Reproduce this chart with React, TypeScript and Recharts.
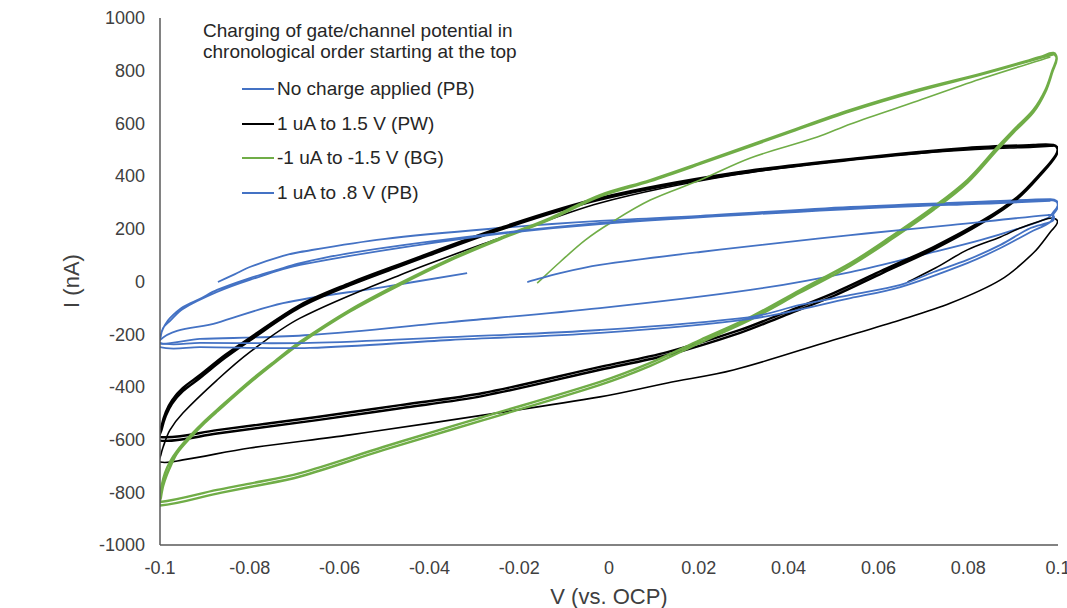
import React from 'react';
import { ComposedChart, Line, XAxis, YAxis } from 'recharts';

type Pt = [number, number];

const X_TICKS = [-0.1, -0.08, -0.06, -0.04, -0.02, 0, 0.02, 0.04, 0.06, 0.08, 0.1];
const Y_TICKS = [-1000, -800, -600, -400, -200, 0, 200, 400, 600, 800, 1000];
const X_TITLE = 'V (vs. OCP)';
const Y_TITLE = 'I (nA)';
const LEGEND_TITLE = ['Charging of gate/channel potential in', 'chronological order starting at the top'];
const SERIES_NAMES = ['No charge applied (PB)', '1 uA to 1.5 V (PW)', '-1 uA to -1.5 V (BG)', '1 uA to .8 V (PB)'];

// ---- "No charge applied (PB)" ----
const pbStartScan: Pt[] = [
  [-0.0871, -2], [-0.0833, 28], [-0.08, 55], [-0.0726, 97], [-0.0688, 112], [-0.0503, 161],
  [-0.0243, 203], [-0.002, 230], [0.0203, 249], [0.0538, 283], [0.0872, 306], [0.0983, 313],
  [0.0997, 306], [0.0999, 287], [0.099, 264],
];
const pbReturnA: Pt[] = [
  [0.0977, 241], [0.0916, 203], [0.0827, 157], [0.0723, 112], [0.0538, 36], [0.0315, -32],
  [-0.002, -101], [-0.0354, -154], [-0.0666, -203], [-0.0911, -218], [-0.1, -222],
];
const pbEndScan: Pt[] = [
  [-0.0873, -157], [-0.0726, -82], [-0.0503, -21], [-0.0316, 32],
];

// ---- "1 uA to .8 V (PB)" ----
const pb8Start: Pt[] = [
  [-0.0182, -2], [-0.0109, 32], [-0.002, 63], [0.0203, 112], [0.0538, 176], [0.0761, 214],
  [0.0977, 252], [0.099, 249], [0.0988, 230],
];
const pb8ReturnA: Pt[] = [
  [0.0939, 203], [0.0872, 139], [0.0798, 82], [0.0723, 36], [0.0649, -13], [0.0538, -51],
  [0.0426, -89], [0.0315, -135], [-0.002, -184], [-0.0354, -211], [-0.0666, -233],
  [-0.0911, -233], [-0.1, -233],
];
const pb8ForwardA: Pt[] = [
  [-0.0996, -191], [-0.0989, -165], [-0.0978, -139], [-0.0949, -97], [-0.0911, -66],
  [-0.0873, -32], [-0.08, 13], [-0.0726, 51], [-0.0688, 70], [-0.0577, 108], [-0.0316, 169],
  [-0.002, 222], [0.0203, 245], [0.0538, 279], [0.0872, 302], [0.0983, 309], [0.0997, 302],
  [0.0999, 279], [0.099, 256],
];
const pb8ReturnB: Pt[] = [
  [0.0983, 226], [0.0939, 188], [0.0872, 127], [0.0798, 70], [0.0649, -21], [0.0538, -63],
  [0.0315, -142], [-0.002, -195], [-0.0354, -222], [-0.0666, -252], [-0.0911, -249], [-0.1, -249],
];
const pb8ForwardB: Pt[] = [
  [-0.0998, -207], [-0.0993, -176], [-0.0978, -150], [-0.0949, -104], [-0.0873, -40],
  [-0.08, 6], [-0.0688, 63], [-0.0316, 165], [-0.002, 218], [0.0538, 275], [0.0872, 298],
  [0.0983, 306],
];

// ---- "1 uA to 1.5 V (PW)" ----
const pwFirstCycle: Pt[] = [
  [0.0665, -2], [0.0727, 51], [0.0798, 120], [0.0872, 169], [0.0916, 203], [0.0961, 230],
  [0.0988, 241], [0.0999, 226], [0.0983, 188], [0.0945, 108], [0.0872, 6], [0.0761, -82],
  [0.0649, -146], [0.05, -222], [0.0277, -336], [0.013, -385], [-0.002, -438], [-0.028, -507],
  [-0.0577, -582], [-0.08, -632], [-0.0949, -677], [-0.1, -685], [-0.0998, -658],
  [-0.0993, -628], [-0.0978, -564], [-0.0949, -499], [-0.0873, -374], [-0.08, -268],
  [-0.0688, -139], [-0.0465, 25], [-0.0243, 165], [-0.002, 298], [0.0277, 404],
  [0.0575, 469], [0.0798, 499], [0.0945, 510], [0.099, 514],
];
const pwCycleA: Pt[] = [
  [0.099, 518], [0.0999, 507], [0.0995, 480], [0.0968, 423], [0.091, 321], [0.0834, 233],
  [0.0723, 131], [0.0611, 44], [0.05, -44], [0.0388, -120], [0.0292, -184], [0.013, -268],
  [-0.002, -324], [-0.028, -423], [-0.0465, -469], [-0.065, -514], [-0.0873, -564],
  [-0.1, -590], [-0.0996, -545], [-0.0987, -495], [-0.0973, -450], [-0.0949, -404],
  [-0.0911, -355], [-0.0855, -279], [-0.08, -214], [-0.0688, -89], [-0.0577, -6],
  [-0.0465, 66], [-0.0243, 203], [-0.002, 317], [0.0277, 412], [0.0575, 472], [0.0798, 507],
  [0.0945, 518], [0.099, 518],
];
const pwCycleB: Pt[] = [
  [0.0999, 503], [0.0995, 476], [0.0968, 418], [0.091, 315], [0.0834, 226], [0.0723, 122],
  [0.0611, 34], [0.05, -55], [0.0388, -131], [0.0292, -195], [0.013, -279], [-0.002, -335],
  [-0.028, -434], [-0.0465, -481], [-0.065, -526], [-0.0873, -577], [-0.1, -604],
  [-0.0996, -560], [-0.0987, -510], [-0.0973, -463], [-0.0949, -416], [-0.0911, -366],
  [-0.0855, -290], [-0.08, -224], [-0.0688, -98], [-0.0577, -14], [-0.0465, 58],
  [-0.0243, 196], [-0.002, 311], [0.0277, 407], [0.0575, 468], [0.0798, 504], [0.0945, 515],
  [0.099, 516],
];

// ---- "-1 uA to -1.5 V (BG)" ----
const bgStartScan: Pt[] = [
  [-0.016, -6], [-0.0109, 74], [-0.0053, 157], [0.0003, 222], [0.0092, 309], [0.0203, 385],
  [0.0315, 469], [0.0464, 548], [0.0538, 598], [0.0687, 685], [0.0834, 772], [0.0983, 852],
];
const bgCycleA: Pt[] = [
  [0.099, 867], [0.0997, 848], [0.0988, 803], [0.0972, 727], [0.0945, 651], [0.0901, 575],
  [0.0865, 510], [0.0798, 385], [0.0723, 283], [0.0627, 169], [0.0538, 70], [0.0426, -32],
  [0.0315, -135], [0.0203, -222], [0.0092, -309], [-0.002, -381], [-0.028, -514],
  [-0.0503, -628], [-0.0688, -727], [-0.08, -767], [-0.0873, -791], [-0.1, -837],
  [-0.1, -818], [-0.0996, -772], [-0.0989, -727], [-0.0978, -685], [-0.0962, -643],
  [-0.0933, -586], [-0.09, -529], [-0.0873, -487], [-0.08, -378], [-0.0744, -302],
  [-0.0688, -229], [-0.0577, -108], [-0.0465, -6], [-0.0354, 85], [-0.0243, 165],
  [-0.0131, 241], [-0.002, 328], [0.0092, 385], [0.0203, 450], [0.0397, 567], [0.0538, 651],
  [0.0687, 727], [0.0834, 791], [0.0961, 852], [0.099, 867],
];
const bgCycleB: Pt[] = [
  [0.0997, 845], [0.0988, 798], [0.0972, 720], [0.0945, 642], [0.0901, 566], [0.0865, 500],
  [0.0798, 374], [0.0723, 272], [0.0627, 158], [0.0538, 60], [0.0426, -42], [0.0315, -145],
  [0.0203, -232], [0.0092, -320], [-0.002, -392], [-0.028, -526], [-0.0503, -640],
  [-0.0688, -740], [-0.08, -780], [-0.0873, -805], [-0.1, -850], [-0.0998, -820],
  [-0.0993, -776], [-0.0985, -735], [-0.0975, -695], [-0.0962, -652], [-0.0933, -594],
  [-0.09, -536], [-0.0873, -494], [-0.08, -385], [-0.0744, -308], [-0.0688, -235],
  [-0.0577, -114], [-0.0465, -12], [-0.0354, 80], [-0.0243, 160], [-0.0131, 236],
  [-0.002, 323], [0.0092, 381], [0.0203, 446], [0.0397, 563], [0.0538, 647], [0.0687, 723],
  [0.0834, 788], [0.0961, 849], [0.099, 862],
];

const BLUE = '#4472C4';
const BLACK = '#000000';
const GREEN = '#70AD47';
const LEGEND_COLORS = [BLUE, BLACK, GREEN, BLUE];

const rows = (pts: Pt[]) => pts.map(([v, i]) => ({ v, i }));

const noCharge = rows([...pbStartScan, ...pbReturnA, ...pbEndScan]);
const pwThin = rows(pwFirstCycle);
const pwThick = rows([...pwCycleA, ...pwCycleB]);
const bgThin = rows(bgStartScan);
const bgThick = rows([...bgCycleA, ...bgCycleB]);
const pb08 = rows([...pb8Start, ...pb8ReturnA, ...pb8ForwardA, ...pb8ReturnB, ...pb8ForwardB]);

// Smooth parametric curve (handles loops where x goes back and forth), passes through every point.
function smoothLoop(context: any) {
  let pts: [number, number][] = [];
  const unit = (dx: number, dy: number) => {
    const l = Math.hypot(dx, dy) || 1;
    return [dx / l, dy / l];
  };
  return {
    areaStart() {},
    areaEnd() {},
    lineStart() {
      pts = [];
    },
    lineEnd() {
      if (!pts.length) return;
      context.moveTo(pts[0][0], pts[0][1]);
      for (let k = 0; k < pts.length - 1; k++) {
        const p0 = pts[k - 1] || pts[k];
        const p1 = pts[k];
        const p2 = pts[k + 1];
        const p3 = pts[k + 2] || p2;
        const d = Math.hypot(p2[0] - p1[0], p2[1] - p1[1]);
        const t1 = unit(p2[0] - p0[0], p2[1] - p0[1]);
        const t2 = unit(p3[0] - p1[0], p3[1] - p1[1]);
        context.bezierCurveTo(
          p1[0] + (t1[0] * d) / 3,
          p1[1] + (t1[1] * d) / 3,
          p2[0] - (t2[0] * d) / 3,
          p2[1] - (t2[1] * d) / 3,
          p2[0],
          p2[1],
        );
      }
    },
    point(x: number, y: number) {
      pts.push([+x, +y]);
    },
  };
}

const FONT = '"Liberation Sans", Arial, sans-serif';
const TEXT = '#404040';

export default function App() {
  const lineProps = { dataKey: 'i', dot: false, type: smoothLoop as any, isAnimationActive: false, activeDot: false };
  return (
    <div style={{ position: 'absolute', left: 0, top: 0, width: 1067, height: 608, overflow: 'hidden', background: '#fff', fontFamily: FONT }}>
      <ComposedChart width={1100} height={608} margin={{ top: 18, right: 42, bottom: 33, left: 100 }}>
        <XAxis
          type="number"
          dataKey="v"
          domain={[-0.1, 0.1]}
          ticks={X_TICKS}
          interval={0}
          allowDataOverflow
          tickLine={false}
          height={30}
          tickMargin={10}
          axisLine={{ stroke: '#595959', strokeWidth: 1.5 }}
          tick={{ fill: TEXT, fontSize: 18, fontFamily: FONT }}
        />
        <YAxis
          type="number"
          domain={[-1000, 1000]}
          ticks={Y_TICKS}
          interval={0}
          allowDataOverflow
          tickLine={false}
          width={60}
          tickMargin={9}
          axisLine={{ stroke: '#595959', strokeWidth: 1.5 }}
          tick={{ fill: TEXT, fontSize: 18, fontFamily: FONT }}
        />
        <Line {...lineProps} data={noCharge} name={SERIES_NAMES[0]} stroke={BLUE} strokeWidth={1.8} />
        <Line {...lineProps} data={pwThin} name={SERIES_NAMES[1]} stroke={BLACK} strokeWidth={1.6} />
        <Line {...lineProps} data={pwThick} name={SERIES_NAMES[1] + ' cycles'} stroke={BLACK} strokeWidth={2.4} />
        <Line {...lineProps} data={bgThin} name={SERIES_NAMES[2]} stroke={GREEN} strokeWidth={1.6} />
        <Line {...lineProps} data={bgThick} name={SERIES_NAMES[2] + ' cycles'} stroke={GREEN} strokeWidth={2.4} />
        <Line {...lineProps} data={pb08} name={SERIES_NAMES[3]} stroke={BLUE} strokeWidth={1.8} />
      </ComposedChart>

      <div style={{ position: 'absolute', left: 203, top: 20, fontSize: 19, lineHeight: '21px', color: '#262626', whiteSpace: 'nowrap' }}>
        {LEGEND_TITLE.map((t) => (
          <div key={t}>{t}</div>
        ))}
      </div>
      {SERIES_NAMES.map((name, idx) => (
        <div key={name} style={{ position: 'absolute', left: 242, top: 78 + idx * 34.5, height: 22, display: 'flex', alignItems: 'center', whiteSpace: 'nowrap' }}>
          <span style={{ display: 'inline-block', width: 32, height: 2, background: LEGEND_COLORS[idx] }} />
          <span style={{ marginLeft: 3, fontSize: 19, color: '#262626' }}>{name}</span>
        </div>
      ))}
      <div style={{ position: 'absolute', left: 609, top: 597, transform: 'translate(-50%, -50%)', fontSize: 22, color: TEXT, whiteSpace: 'nowrap' }}>
        {X_TITLE}
      </div>
      <div style={{ position: 'absolute', left: 72, top: 281, transform: 'translate(-50%, -50%) rotate(-90deg)', fontSize: 22, color: TEXT, whiteSpace: 'nowrap' }}>
        {Y_TITLE}
      </div>
    </div>
  );
}
